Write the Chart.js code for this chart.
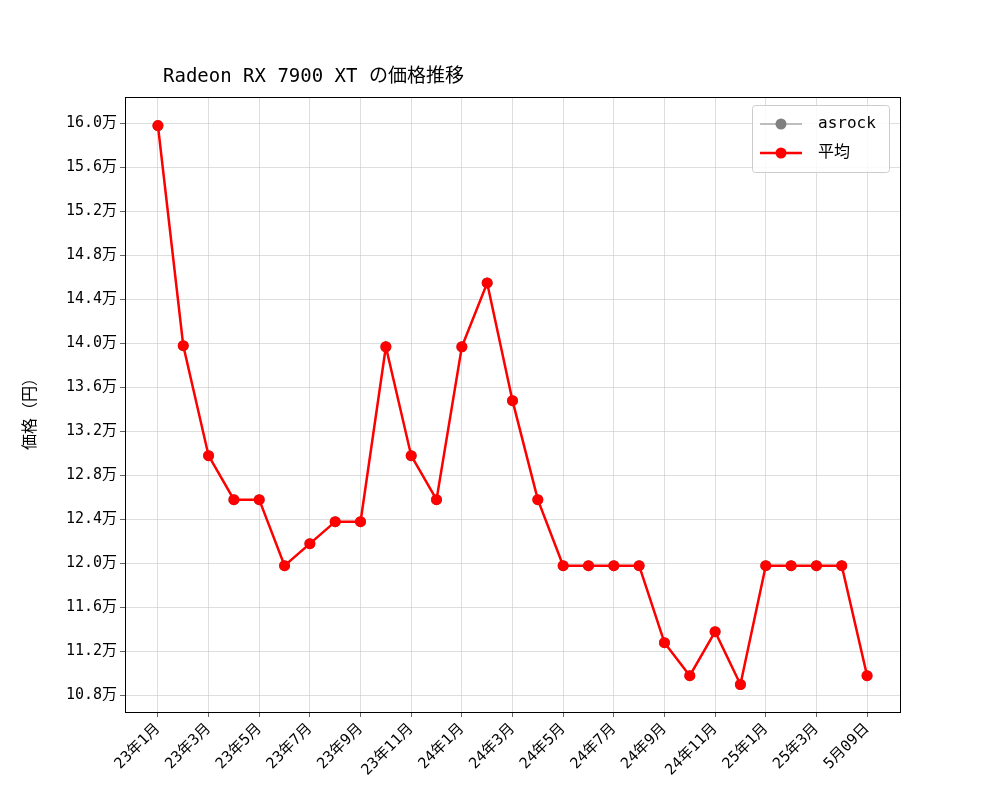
<!DOCTYPE html>
<html><head><meta charset="utf-8">
<script src="https://cdn.jsdelivr.net/npm/chart.js@4.4.1/dist/chart.umd.min.js"></script>
<style>html,body{margin:0;padding:0;background:#fff}</style>
</head><body>
<div style="width:1000px;height:800px"><canvas id="c" width="1000" height="800"></canvas></div>
<script>
const categories = ["23年1月","23年2月","23年3月","23年4月","23年5月","23年6月","23年7月","23年8月","23年9月","23年10月","23年11月","23年12月","24年1月","24年2月","24年3月","24年4月","24年5月","24年6月","24年7月","24年8月","24年9月","24年10月","24年11月","24年12月","25年1月","25年2月","25年3月","25年4月","5月09日"];
const avgValues = [159800,139800,129800,125800,125800,119800,121800,123800,123800,139700,129800,125800,139700,145500,134800,125800,119800,119800,119800,119800,112800,109800,113800,109000,119800,119800,119800,119800,109800];
const asrockValues = avgValues.slice();
const yTicks = [108000,112000,116000,120000,124000,128000,132000,136000,140000,144000,148000,152000,156000,160000];
const FONT = '"DejaVu Sans Mono","Noto Sans CJK JP",monospace';
const pts = a => a.map((v,i)=>({x:i,y:v}));
const deco = {
  id:'deco',
  afterDraw(ch){
    const c=ch.ctx, a=ch.chartArea;
    c.save();
    c.strokeStyle='#000';c.lineWidth=1;c.strokeRect(a.left+0.5,a.top+0.5,a.right-a.left,a.bottom-a.top);
    c.fillStyle='#000';c.font='19px '+FONT;c.textBaseline='alphabetic';c.textAlign='left';
    c.fillText('Radeon RX 7900 XT の価格推移',163,82);
    c.translate(35,410);c.rotate(-Math.PI/2);c.textAlign='center';c.font='16px '+FONT;
    c.fillText('価格（円）',0,0);
    c.restore();
    c.save();
    const lx=752,ly=105,lw=137,lh=67;
    c.fillStyle='rgba(255,255,255,0.85)';c.strokeStyle='#ccc';c.lineWidth=1;
    c.beginPath();c.roundRect(lx+0.5,ly+0.5,lw,lh,3);c.fill();c.stroke();
    const rows=[['asrock','#808080',1.2],['平均','#ff0000',2.5]];
    rows.forEach((r,i)=>{
      const y=ly+19+i*29;
      c.strokeStyle=r[1];c.lineWidth=r[2];c.beginPath();c.moveTo(760,y);c.lineTo(802,y);c.stroke();
      c.fillStyle=r[1];c.beginPath();c.arc(781,y,5.5,0,Math.PI*2);c.fill();
      c.fillStyle='#000';c.font='16px '+FONT;c.textAlign='left';c.textBaseline='middle';c.fillText(r[0],818,y);
    });
    c.restore();
  }
};
new Chart(document.getElementById('c'),{
  type:'line',
  data:{datasets:[
    {label:'asrock',order:2,data:pts(asrockValues),borderColor:'#808080',backgroundColor:'#808080',borderWidth:1.2,pointRadius:5.5,pointBorderWidth:0,pointHoverRadius:5.5},
    {label:'平均',order:1,data:pts(avgValues),borderColor:'#ff0000',backgroundColor:'#ff0000',borderWidth:2.5,pointRadius:5.5,pointBorderWidth:0,pointHoverRadius:5.5}
  ]},
  options:{
    responsive:false,animation:false,
    layout:{padding:{top:97,right:100,left:0,bottom:0}},
    plugins:{legend:{display:false},tooltip:{enabled:false},title:{display:false}},
    scales:{
      x:{type:'linear',min:-1.3,max:29.3,
        afterFit:s=>{s.height=88;},
        afterBuildTicks:s=>{s.ticks=categories.map((_,i)=>({value:i})).filter(t=>t.value%2===0);},
        ticks:{autoSkip:false,maxRotation:45,minRotation:45,color:'#000',font:{family:FONT,size:15},callback:v=>categories[v]},
        grid:{color:'#c8c8c8',lineWidth:0.6,borderDash:[1,2],tickLength:5,tickColor:'#000',tickBorderDash:[]},
        border:{display:false}},
      y:{min:106500,max:162400,
        afterFit:s=>{s.width=125;},
        afterBuildTicks:s=>{s.ticks=yTicks.map(v=>({value:v}));},
        ticks:{color:'#000',font:{family:FONT,size:15},callback:v=>(v/10000).toFixed(1)+'万'},
        grid:{color:'#c8c8c8',lineWidth:0.6,borderDash:[1,2],tickLength:5,tickColor:'#000',tickBorderDash:[]},
        border:{display:false}}
    }
  },
  plugins:[deco]
});
</script></body></html>
